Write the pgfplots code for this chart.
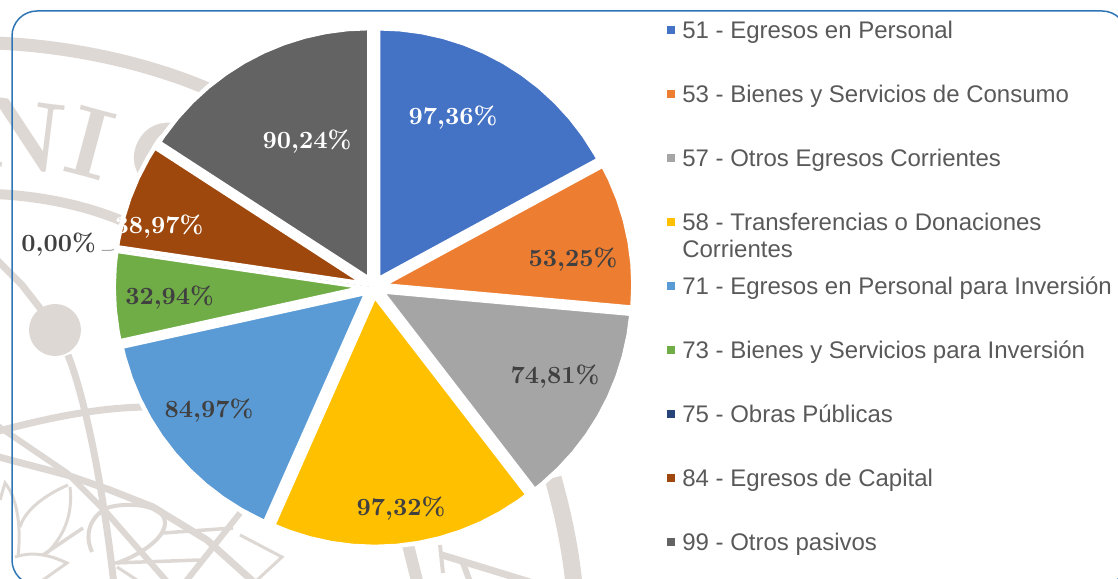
\documentclass[border=0pt]{standalone}
\usepackage{fontspec}
\usepackage{pgfplots}
\pgfplotsset{compat=1.18}
\newfontfamily\legendfont{Liberation Sans}
\newfontface\pctface{lmroman10-bold.otf}

\definecolor{c51}{HTML}{4472C4}
\definecolor{c53}{HTML}{ED7D31}
\definecolor{c57}{HTML}{A5A5A5}
\definecolor{c58}{HTML}{FFC000}
\definecolor{c71}{HTML}{5B9BD5}
\definecolor{c73}{HTML}{70AD47}
\definecolor{c75}{HTML}{264478}
\definecolor{c84}{HTML}{9E480E}
\definecolor{c99}{HTML}{636363}
\definecolor{wm}{HTML}{DDD8D4}
\definecolor{marco}{HTML}{2E75B6}
\definecolor{dark}{HTML}{404040}

\newcommand{\pct}{\pctface\fontsize{24.8}{26}\selectfont}
\newcommand{\wmfont}{\pctface\fontsize{100}{100}\selectfont}
\newcommand{\lstrut}{\rule[-8.1pt]{0pt}{27pt}}

\begin{document}
\begin{tikzpicture}
\path[clip,use as bounding box] (0,0) rectangle (1118pt,578pt);

% watermark behind the chart, in pixel coordinates
\begin{scope}[x=1pt,y=-1pt,shift={(0,578pt)},draw=wm,line cap=butt]
  \draw[line width=13pt] (-5,43) .. controls (70,46) and (150,63) .. (215,92);
  \draw[line width=17pt] (553,478) .. controls (562,510) and (570,545) .. (574,585);
  \draw[line width=10pt] (-5,194) .. controls (40,196) and (85,205) .. (125,222);
  \node[wm,font=\wmfont,rotate=-7] at (20,135) {N};
  \node[wm,font=\wmfont,rotate=-15] at (90,143) {I};
  \node[wm,font=\wmfont,rotate=-25] at (170,158) {C};
  \fill[wm] (55,330) circle (26);
  \draw[line width=7pt] (-5,258) -- (22,285) -- (43,312);
  \draw[line width=7pt] (68,355) .. controls (80,385) and (100,460) .. (114,585);
  \draw[line width=7pt] (-5,432) .. controls (30,423) and (90,407) .. (150,407);
  \draw[line width=6pt] (-5,424) -- (67,473) -- (107,513) -- (170,585);
  \draw[line width=7pt] (-5,456) -- (67,475) -- (110,490) -- (153,507) -- (207,540) -- (257,585);
  \draw[line width=3pt] (68,485) .. controls (45,495) and (25,510) .. (20,527);
  \draw[line width=3pt] (70,487) .. controls (73,513) and (65,535) .. (47,553);
  \draw[line width=3pt] (0,500) -- (5,483) .. controls (15,495) and (22,520) .. (18,557);
  \draw[line width=3pt] (15,557) .. controls (33,551) and (50,555) .. (67,563) -- (43,580);
  \draw[line width=4pt] (92,552) .. controls (82,530) and (95,512) .. (110,507) .. controls (130,502) and (165,505) .. (165,523) .. controls (165,540) and (135,557) .. (117,563);
  \draw[line width=3.5pt] (43,555) -- (83,528);
  \draw[line width=3.5pt] (113,563) -- (200,560);
  \draw[line width=3.5pt] (163,533) -- (233,528);
  \draw[line width=6pt] (240,513) -- (183,585);
  \draw[line width=3pt] (240,535) -- (282,557) -- (255,582);
  \draw[line width=3pt] (117,567) -- (140,582);
  \draw[line width=12pt] (408,545) -- (418,585);
  \draw[line width=4pt] (440,545) -- (443,573);
  \draw[line width=7pt] (442,555) -- (530,582);
  \draw[line width=6pt] (463,563) -- (470,582);
  \fill[white] (373.6,287) circle (258);
  \draw[marco,line width=1.5pt,rounded corners=25pt] (12,11) rectangle (1127,585);
  \draw[black!35,line width=1pt] (101.5,250.5) -- (110,250.5) -- (116,249);
\end{scope}

\begin{axis}[
  at={(0,0)}, anchor=south west,
  scale only axis, width=1118pt, height=578pt,
  xmin=-373.6, xmax=744.4, ymin=-291, ymax=287,
  hide axis, clip=false,
  legend image code/.code={\path[#1,draw=none] (0pt,-4pt) rectangle (8pt,4pt); \path (15pt,0pt);},
  legend cell align=left,
  legend style={
    at={(axis cs:293.4,266.9)}, anchor=north west,
    draw=none, fill=none, inner sep=0pt, outer sep=0pt,
    nodes={inner sep=0pt, outer sep=0pt},
    row sep=43.6pt,
    text=black!65,
    font=\legendfont\fontsize{24}{27}\selectfont,
  },
]
% 97,36 of a total of 569,86 -> 61,5 degrees
\addplot[forget plot,fill=c51,draw=white,line width=4.5pt,data cs=polar,xshift=4.60pt,yshift=7.73pt] coordinates {
  (90,0)(90,251)(85,251)(80,251)(75,251)(70,251)(65,251)(60,251)(55,251)(50,251)(45,251)(40,251)(35,251)(30,251)(28.5,251)} -- cycle;
\addlegendimage{fill=c51}
\addlegendentry{51 - Egresos en Personal\lstrut}
% 53,25
\addplot[forget plot,fill=c53,draw=white,line width=4.5pt,data cs=polar,xshift=8.81pt,yshift=1.82pt] coordinates {
  (28.5,0)(28.5,251)(25,251)(20,251)(15,251)(10,251)(5,251)(0,251)(-5,251)(-5.14,251)} -- cycle;
\addlegendimage{fill=c53}
\addlegendentry{53 - Bienes y Servicios de Consumo\lstrut}
% 74,81
\addplot[forget plot,fill=c57,draw=white,line width=4.5pt,data cs=polar,xshift=7.89pt,yshift=-4.33pt] coordinates {
  (-5.14,0)(-5.14,251)(-10,251)(-15,251)(-20,251)(-25,251)(-30,251)(-35,251)(-40,251)(-45,251)(-50,251)(-52.4,251)} -- cycle;
\addlegendimage{fill=c57}
\addlegendentry{57 - Otros Egresos Corrientes\lstrut}
% 97,32
\addplot[forget plot,fill=c58,draw=white,line width=4.5pt,data cs=polar,xshift=1.07pt,yshift=-8.94pt] coordinates {
  (-52.4,0)(-52.4,251)(-55,251)(-60,251)(-65,251)(-70,251)(-75,251)(-80,251)(-85,251)(-90,251)(-95,251)(-100,251)(-105,251)(-110,251)(-113.88,251)} -- cycle;
\addlegendimage{fill=c58}
\addlegendentry{\smash{\begin{tabular}[t]{@{}l@{}}58 - Transferencias o Donaciones\\Corrientes\end{tabular}}\lstrut}
% 84,97
\addplot[forget plot,fill=c71,draw=white,line width=4.5pt,data cs=polar,xshift=-6.97pt,yshift=-5.70pt] coordinates {
  (-113.88,0)(-113.88,251)(-115,251)(-120,251)(-125,251)(-130,251)(-135,251)(-140,251)(-145,251)(-150,251)(-155,251)(-160,251)(-165,251)(-167.56,251)} -- cycle;
\addlegendimage{fill=c71}
\addlegendentry{71 - Egresos en Personal para Inversión\lstrut}
% 32,94
\addplot[forget plot,fill=c73,draw=white,line width=4.5pt,data cs=polar,xshift=-8.99pt,yshift=-0.32pt] coordinates {
  (-167.56,0)(-167.56,251)(-170,251)(-175,251)(-180,251)(-185,251)(-188.37,251)} -- cycle;
\addlegendimage{fill=c73}
\addlegendentry{73 - Bienes y Servicios para Inversión\lstrut}
% 0,00: no area
\addplot[forget plot,fill=c75,draw=none,data cs=polar] coordinates {
  (-188.37,0)(-188.37,251)} -- cycle;
\addlegendimage{fill=c75}
\addlegendentry{75 - Obras Públicas\lstrut}
% 38,97
\addplot[forget plot,fill=c84,draw=white,line width=4.5pt,data cs=polar,xshift=-8.42pt,yshift=3.18pt] coordinates {
  (-188.37,0)(-188.37,251)(-190,251)(-195,251)(-200,251)(-205,251)(-210,251)(-212.99,251)} -- cycle;
\addlegendimage{fill=c84}
\addlegendentry{84 - Egresos de Capital\lstrut}
% 90,24
\addplot[forget plot,fill=c99,draw=white,line width=4.5pt,data cs=polar,xshift=-4.29pt,yshift=7.91pt] coordinates {
  (-212.99,0)(-212.99,251)(-215,251)(-220,251)(-225,251)(-230,251)(-235,251)(-240,251)(-245,251)(-250,251)(-255,251)(-260,251)(-265,251)(-270,251)} -- cycle;
\addlegendimage{fill=c99}
\addlegendentry{99 - Otros pasivos\lstrut}

\node[white,font=\pct] at (axis cs:79.4,169) {97,36\%};
\node[dark,font=\pct] at (axis cs:199.4,27) {53,25\%};
\node[dark,font=\pct] at (axis cs:181.4,-90) {74,81\%};
\node[dark,font=\pct] at (axis cs:27.4,-222) {97,32\%};
\node[dark,font=\pct] at (axis cs:-164.6,-124) {84,97\%};
\node[dark,font=\pct] at (axis cs:-204,-11) {32,94\%};
\node[dark,font=\pct] at (axis cs:-315,42) {0,00\%};
\node[white,font=\pct] at (axis cs:-214.6,60) {38,97\%};
\node[white,font=\pct] at (axis cs:-66.6,145) {90,24\%};
\end{axis}
\end{tikzpicture}
\end{document}
